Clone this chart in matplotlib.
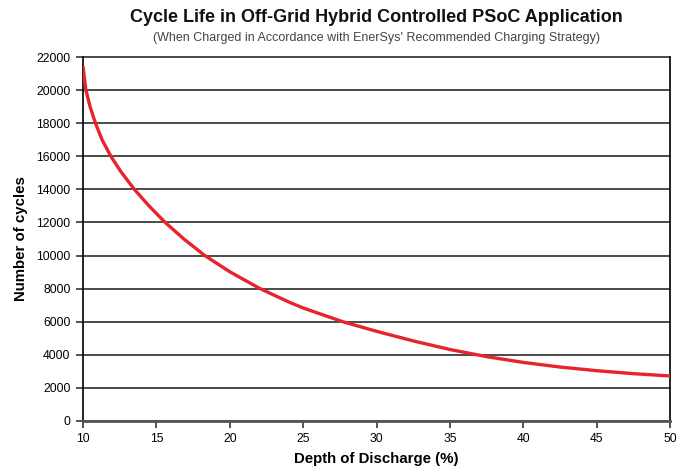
import matplotlib.pyplot as plt

plt.rcParams['font.family'] = ['Liberation Sans', 'DejaVu Sans']

# values
dod = [10, 10.1, 10.2, 10.5, 10.85, 11.3, 11.9, 12.6, 13.5, 14.5, 15.6, 16.9,
       18.3, 20, 22, 24, 25, 27.7, 30, 32.5, 35, 37.5, 40, 42.5, 45, 47.5, 50]
cycles = [21450, 20700, 20000, 18950, 18000, 17000, 16000, 15050, 14000, 13000, 12000, 10980,
          10000, 9020, 8030, 7200, 6830, 6000, 5420, 4840, 4320, 3890, 3540, 3260, 3040, 2860, 2720]

x_ticks = [10, 15, 20, 25, 30, 35, 40, 45, 50]
y_ticks = list(range(0, 22001, 2000))

fig = plt.figure(figsize=(6.88, 4.70), dpi=100)
ax = fig.add_axes([0.1206, 0.1043, 0.8534, 0.7744])

ax.plot(dod, cycles, color='#e8232b', linewidth=2.4, solid_joinstyle='round',
        solid_capstyle='butt', zorder=3)

ax.set_xlim(10, 50)
ax.set_ylim(0, 22000)
ax.set_xticks(x_ticks)
ax.set_yticks(y_ticks)
ax.yaxis.grid(True, color='#1a1a1a', linewidth=1.1)
for gl in ax.get_ygridlines():
    gl.set_clip_on(False)
ax.set_axisbelow(True)

ax.spines['top'].set_visible(False)
ax.spines['left'].set_color('#111111')
ax.spines['left'].set_linewidth(1.3)
ax.spines['right'].set_color('#111111')
ax.spines['right'].set_linewidth(1.3)
ax.spines['bottom'].set_color('#555555')
ax.spines['bottom'].set_linewidth(2.0)

ax.tick_params(axis='both', direction='out', length=5, width=1.1, color='#222222',
               labelsize=8.7, pad=4)

ax.set_xlabel('Depth of Discharge (%)', fontsize=10.8, fontweight='bold', labelpad=5)
ax.set_ylabel('Number of cycles', fontsize=10.8, fontweight='bold', labelpad=6)

fig.text(0.547, 0.962, 'Cycle Life in Off-Grid Hybrid Controlled PSoC Application',
         ha='center', va='center', fontsize=13, fontweight='bold', color='#111111')
fig.text(0.547, 0.920, "(When Charged in Accordance with EnerSys' Recommended Charging Strategy)",
         ha='center', va='center', fontsize=9, color='#444444')

fig.savefig('out.png', dpi=100)
